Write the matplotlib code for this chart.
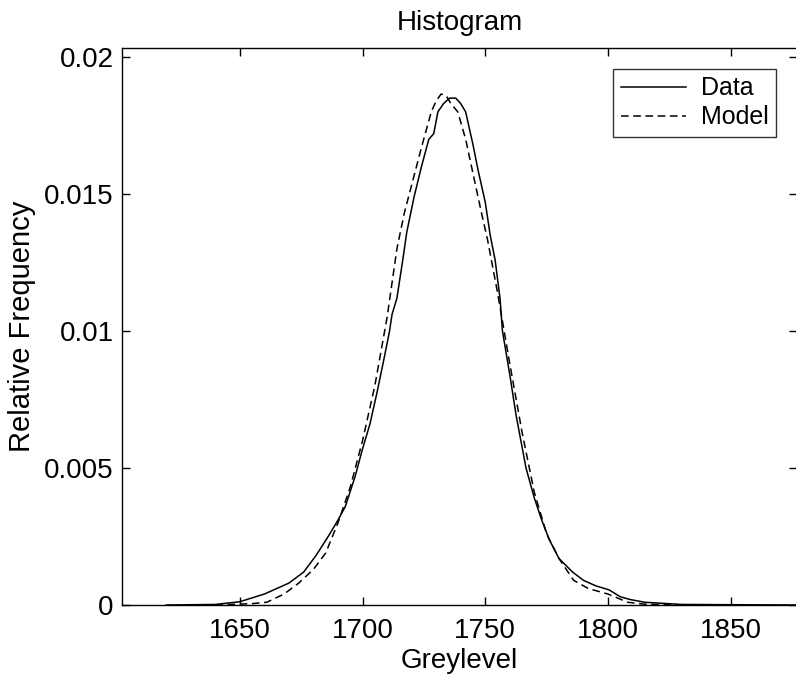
import matplotlib
matplotlib.use('Agg')
import matplotlib.pyplot as plt

# values
data_x = [1620, 1640, 1650, 1660, 1670, 1676, 1681, 1686, 1690, 1693, 1697, 1700,
          1703, 1706, 1709, 1711, 1712, 1714, 1716.4, 1718, 1721, 1724, 1727, 1729,
          1730.7, 1733, 1735.4, 1738, 1740, 1742, 1745, 1747, 1750, 1751, 1752, 1754,
          1756, 1757, 1760, 1762.6, 1766.6, 1770, 1773, 1776, 1780, 1785.6, 1790,
          1795, 1800.5, 1805, 1809, 1815, 1830, 1877]
data_y = [0, 0.00002, 0.00012, 0.0004, 0.0008, 0.0012, 0.0018, 0.0025, 0.0031, 0.0036,
          0.0047, 0.0057, 0.0066, 0.0078, 0.0091, 0.0100, 0.0106, 0.0112, 0.0126, 0.0136,
          0.0149, 0.0160, 0.0170, 0.0172, 0.0180, 0.0183, 0.0185, 0.0185, 0.0183, 0.0180,
          0.0168, 0.0159, 0.0147, 0.0141, 0.0135, 0.0126, 0.0112, 0.0100, 0.0084, 0.0069,
          0.0050, 0.0039, 0.0031, 0.0024, 0.0017, 0.0012, 0.0009, 0.0007, 0.00055, 0.0003,
          0.0002, 0.0001, 0.00002, 0]

model_x = [1640, 1655, 1661, 1668, 1674, 1680, 1685, 1690, 1695, 1700, 1705, 1710,
           1714, 1717, 1720.5, 1724, 1728, 1730, 1732, 1734, 1736, 1738.8, 1742, 1745.6,
           1748, 1751, 1755, 1760, 1765, 1770, 1775, 1780, 1786, 1792, 1800, 1808, 1815, 1830]
model_y = [0, 0.00005, 0.0001, 0.0004, 0.0008, 0.0013, 0.0019, 0.0030, 0.0043, 0.0060,
           0.0080, 0.0105, 0.0130, 0.0143, 0.0155, 0.0167, 0.0180, 0.0184, 0.01865, 0.0186,
           0.0183, 0.0180, 0.0170, 0.0155, 0.0145, 0.0133, 0.0114, 0.0088, 0.0063, 0.0041,
           0.0026, 0.0017, 0.0009, 0.0006, 0.0004, 0.0001, 0.00003, 0]

xticks = [1650, 1700, 1750, 1800, 1850]
yticks = [0, 0.005, 0.01, 0.015, 0.02]
ytick_labels = ['0', '0.005', '0.01', '0.015', '0.02']

plt.rcParams['font.family'] = ['Liberation Sans', 'DejaVu Sans']
plt.rcParams['font.size'] = 20

fig = plt.figure(figsize=(7.96, 6.79), dpi=100)
ax = fig.add_axes([122/796, 1-605/679, (797-122)/796, (605-48)/679])

ax.plot(data_x, data_y, 'k-', lw=1.1, label='Data')
ax.plot(model_x, model_y, 'k--', lw=1.1, dashes=(5, 3), label='Model')

ax.set_xlim(1602, 1877)
ax.set_ylim(0, 0.02033)
ax.set_xticks(xticks)
ax.set_yticks(yticks)
ax.set_yticklabels(ytick_labels)
ax.tick_params(direction='in', top=True, right=True, length=6, width=1)
ax.tick_params(axis='x', pad=9)
ax.tick_params(axis='y', pad=6)
for s in ax.spines.values():
    s.set_linewidth(1)

ax.set_title('Histogram', fontsize=20, pad=13)
ax.set_xlabel('Greylevel', fontsize=20, labelpad=3)
ax.set_ylabel('Relative Frequency', fontsize=21, labelpad=6)

leg = ax.legend(loc='upper right', bbox_to_anchor=(0.9875, 0.985), frameon=True,
                fancybox=False, edgecolor='black', handlelength=2.6,
                borderpad=0.3, labelspacing=0.2, handletextpad=0.6, fontsize=18)
leg.get_frame().set_linewidth(1)

fig.savefig('out.png', dpi=100)
